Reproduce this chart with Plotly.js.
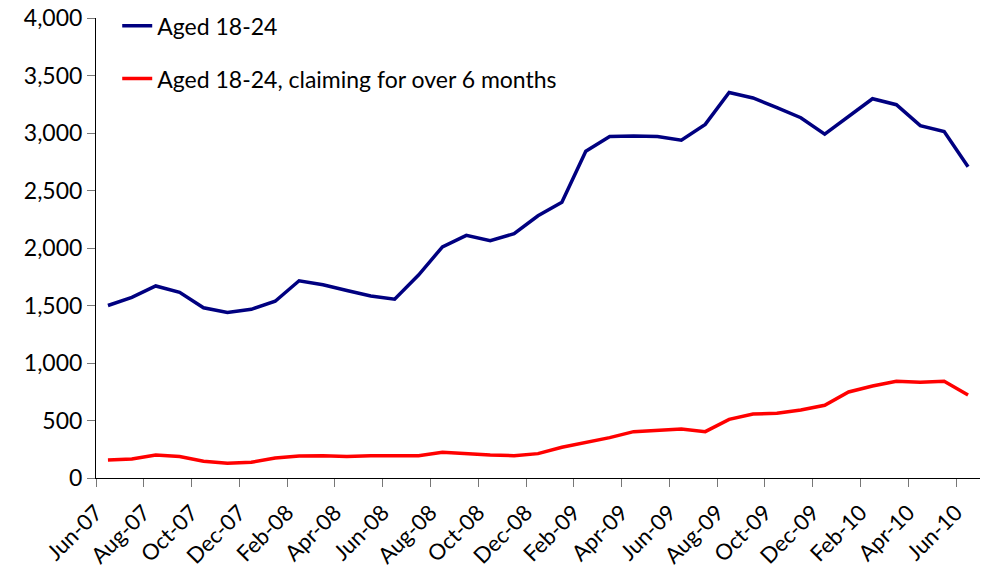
<!DOCTYPE html>
<html>
<head>
<meta charset="utf-8">
<script src="https://cdn.plot.ly/plotly-3.0.1.min.js"></script>
<style>html,body{margin:0;padding:0;background:#fff;}#chart{width:983px;height:569px;}</style>
</head>
<body>
<div id="chart"></div>
<script>
const months = ["Jun-07","Jul-07","Aug-07","Sep-07","Oct-07","Nov-07","Dec-07","Jan-08","Feb-08","Mar-08","Apr-08","May-08","Jun-08","Jul-08","Aug-08","Sep-08","Oct-08","Nov-08","Dec-08","Jan-09","Feb-09","Mar-09","Apr-09","May-09","Jun-09","Jul-09","Aug-09","Sep-09","Oct-09","Nov-09","Dec-09","Jan-10","Feb-10","Mar-10","Apr-10","May-10","Jun-10"];
const aged1824 = [1500,1570,1670,1615,1480,1440,1467,1537,1715,1680,1630,1583,1555,1765,2010,2110,2063,2125,2280,2397,2842,2970,2973,2970,2938,3075,3352,3305,3220,3133,2990,3148,3298,3246,3064,3012,2707];
const aged1824Over6m = [157,165,200,186,145,128,137,174,191,194,186,194,194,194,223,209,200,194,212,267,310,351,403,417,426,403,510,557,563,591,632,748,800,841,832,841,722];
const seriesNames = ["Aged 18-24","Aged 18-24, claiming for over 6 months"];
const yTicks = [0,500,1000,1500,2000,2500,3000,3500,4000];

const xIdx = months.map((m,i)=>i);
const tickIdx = xIdx.filter(i=>i%2===0);

const FONT = "Lato, 'Open Sans', sans-serif";

const traces = [
  {x:xIdx, y:aged1824, type:"scatter", mode:"lines", name:seriesNames[0], legendgroup:"a",
   line:{color:"#000080", width:3.5}, hoverinfo:"y"},
  {x:xIdx, y:aged1824Over6m, type:"scatter", mode:"lines", name:seriesNames[1], legendgroup:"b",
   line:{color:"#FF0000", width:3.5}, hoverinfo:"y"}
];

const layout = {
  width:983, height:569,
  margin:{l:96, r:3, t:18, b:91},
  paper_bgcolor:"#fff", plot_bgcolor:"#fff",
  font:{family:FONT, size:22, color:"#000"},
  showlegend:true,
  legend:{x:0.024, y:1.03, xanchor:"left", yanchor:"top", bgcolor:"rgba(0,0,0,0)",
          font:{family:FONT, size:23, color:"#000"}, tracegroupgap:20, traceorder:"grouped"},
  xaxis:{
    range:[-0.5, months.length-0.5], showgrid:false, zeroline:false,
    showline:true, linecolor:"#000", linewidth:1,
    ticks:"outside", ticklen:8, tickcolor:"#777", tickwidth:1,
    tickmode:"array", tickvals:tickIdx.map(i=>i-0.5), ticktext:tickIdx.map(i=>months[i]),
    tickangle:-45, ticklabelstandoff:4, tickfont:{family:FONT, size:22, color:"#000"}
  },
  yaxis:{
    range:[0,4000], showgrid:false, zeroline:false,
    showline:true, linecolor:"#000", linewidth:1,
    ticks:"outside", ticklen:8, tickcolor:"#777", tickwidth:1,
    tickmode:"array", tickvals:yTicks, ticktext:yTicks.map(v=>v.toLocaleString("en-US")),
    tickfont:{family:FONT, size:23, color:"#000"}
  }
};

Plotly.newPlot("chart", traces, layout, {displayModeBar:false, staticPlot:true});
</script>
</body>
</html>
